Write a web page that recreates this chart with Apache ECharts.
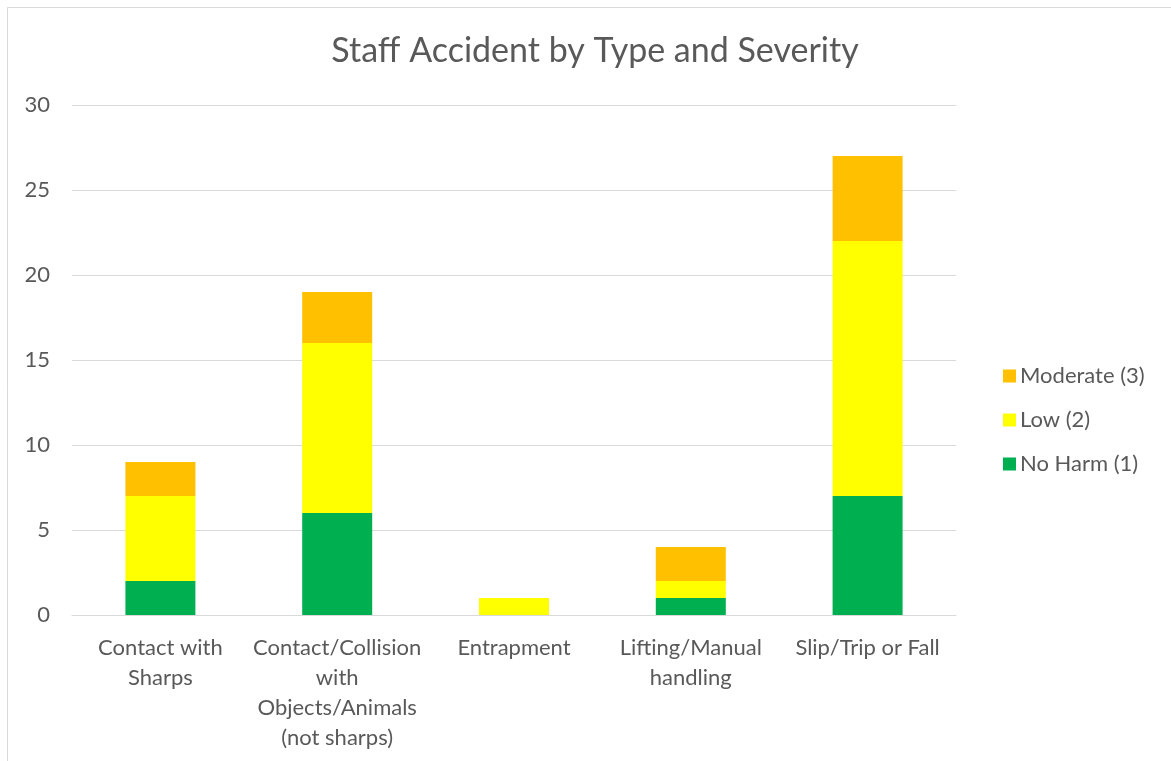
<!DOCTYPE html>
<html>
<head>
<meta charset="utf-8">
<style>
  html, body { margin: 0; padding: 0; background: #ffffff; }
  #chart { width: 1171px; height: 761px; }
</style>
<script src="https://cdn.jsdelivr.net/npm/echarts@6/dist/echarts.min.js"></script>
</head>
<body>
<div id="chart"></div>
<script>
// Accident types (line breaks as shown under the axis)
const categories = [
  'Contact with\nSharps',
  'Contact/Collision\nwith\nObjects/Animals\n(not sharps)',
  'Entrapment',
  'Lifting/Manual\nhandling',
  'Slip/Trip or Fall'
];

// Counts per severity level
const noHarm   = [2, 6, 0, 1, 7];
const low      = [5, 10, 1, 1, 15];
const moderate = [2, 3, 0, 2, 5];

const yTicks = [0, 5, 10, 15, 20, 25, 30];

const textColor = '#595959';
const fontFamily = 'Lato, "Open Sans", sans-serif';

const chart = echarts.init(document.getElementById('chart'), null, { renderer: 'canvas' });

chart.setOption({
  backgroundColor: '#ffffff',
  animation: false,
  textStyle: { fontFamily: fontFamily, color: textColor },
  title: {
    text: 'Staff Accident by Type and Severity',
    left: 590,
    top: 29,
    textAlign: 'center',
    textStyle: { fontFamily: fontFamily, fontSize: 34, fontWeight: 'normal', color: textColor }
  },
  graphic: [{
    type: 'rect',
    shape: { x: 7.5, y: 7.5, width: 1200, height: 800 },
    style: { fill: 'none', stroke: '#d9d9d9', lineWidth: 1 },
    silent: true
  }],
  legend: {
    orient: 'vertical',
    left: 998,
    top: 360,
    itemWidth: 13,
    itemHeight: 13,
    itemGap: 22,
    icon: 'rect',
    data: ['Moderate (3)', 'Low (2)', 'No Harm (1)'],
    textStyle: { fontFamily: fontFamily, fontSize: 22, color: textColor, padding: [0, 0, 0, -1] }
  },
  grid: { left: 72, right: 215, top: 105, bottom: 146, containLabel: false },
  xAxis: {
    type: 'category',
    data: categories,
    axisLine: { lineStyle: { color: '#d9d9d9', width: 1 } },
    axisTick: { show: false },
    axisLabel: {
      interval: 0,
      margin: 18,
      fontSize: 22,
      lineHeight: 30,
      color: textColor,
      fontFamily: fontFamily
    }
  },
  yAxis: {
    type: 'value',
    min: yTicks[0],
    max: yTicks[yTicks.length - 1],
    interval: 5,
    axisLine: { show: false },
    axisTick: { show: false },
    splitLine: { lineStyle: { color: '#d9d9d9', width: 1 } },
    axisLabel: { fontSize: 22, color: textColor, margin: 22, fontFamily: fontFamily }
  },
  series: [
    {
      name: 'No Harm (1)', type: 'bar', stack: 'sev', data: noHarm,
      barWidth: 70, itemStyle: { color: '#00b050' }
    },
    {
      name: 'Low (2)', type: 'bar', stack: 'sev', data: low,
      barWidth: 70, itemStyle: { color: '#ffff00' }
    },
    {
      name: 'Moderate (3)', type: 'bar', stack: 'sev', data: moderate,
      barWidth: 70, itemStyle: { color: '#ffc000' }
    }
  ]
});
</script>
</body>
</html>
